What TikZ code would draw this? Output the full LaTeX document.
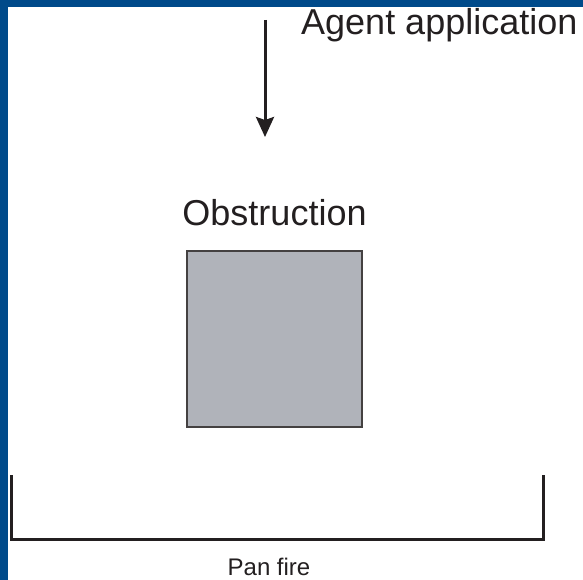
\documentclass[tikz,border=0pt]{standalone}
\usepackage{fontspec}
\setmainfont{Liberation Sans}
\usepackage{tikz}
\usetikzlibrary{arrows.meta,positioning,calc}
\definecolor{framebg}{RGB}{0,74,138}
\definecolor{obstgray}{RGB}{176,179,186}
\definecolor{inkdark}{RGB}{35,31,32}
\tikzstyle{obstacle} = [draw=inkdark!85, rectangle, line width=1.4pt, fill=obstgray,
    minimum width=175pt, minimum height=176pt, inner sep=0pt]
\tikzstyle{bigtext} = [inner sep=0pt, text=inkdark, font=\fontsize{36}{40}\selectfont]
\tikzstyle{smalltext} = [inner sep=0pt, text=inkdark, font=\fontsize{24}{28}\selectfont]
\tikzstyle{pan} = [draw, line width=3pt, color=inkdark]
\tikzstyle{arr} = [draw, line width=3pt, ->, color=inkdark]

\begin{document}
\begin{tikzpicture}[auto, node distance=117pt, >={Stealth[length=20pt,width=18pt,inset=3pt]}]
    \useasboundingbox (0,0) rectangle (583pt,-580pt);
    % frame
    \fill [framebg] (0,0) rectangle (7.5pt,-580pt);
    \fill [framebg] (0,0) rectangle (583pt,-7pt);

    \coordinate (agent_top) at (265pt,-20pt);
    \coordinate [below of=agent_top] (agent_tip);
    \draw [arr] (agent_top) -- (agent_tip);
    \node [bigtext, anchor=base west] (agent) at (301pt,-35pt) {Agent application};

    \node [obstacle] (obst) at (274.5pt,-339pt) {};
    \node [bigtext, anchor=base] (obst_lbl) at ($(obst.north)+(0,25pt)$) {Obstruction};

    \coordinate (pan_lt) at (11pt,-475pt);
    \coordinate [below of=pan_lt, node distance=64pt] (pan_lb);
    \coordinate [right of=pan_lb, node distance=532pt] (pan_rb);
    \coordinate [above of=pan_rb, node distance=64pt] (pan_rt);
    \draw [pan] (pan_lt) -- (pan_lb) -- (pan_rb) -- (pan_rt);
    \node [smalltext, anchor=base] (pan_lbl) at (269pt,-575pt) {Pan fire};
\end{tikzpicture}
\end{document}
